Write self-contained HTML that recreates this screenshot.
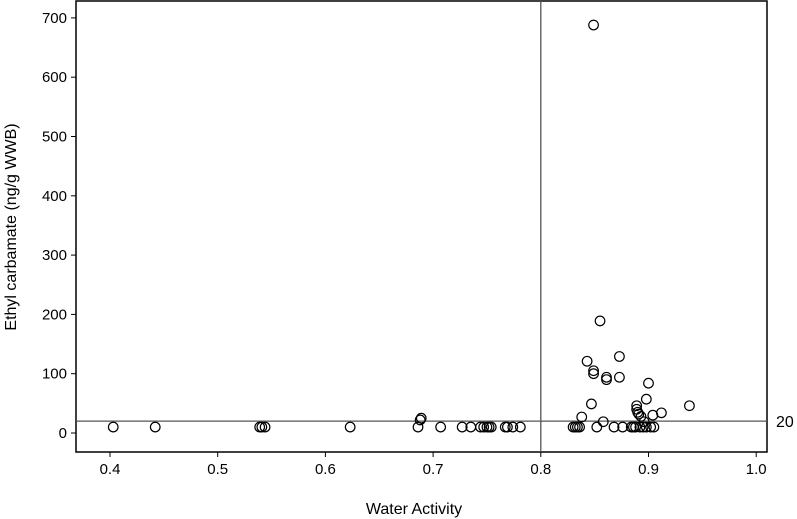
<!DOCTYPE html>
<html><head><meta charset="utf-8"><style>
body{margin:0;background:#fff;}
svg{display:block;font-family:"Liberation Sans","DejaVu Sans",sans-serif;}
</style></head><body>
<svg id="chart" width="797" height="519">
<rect x="76" y="1" width="691" height="451" fill="none" stroke="#000" stroke-width="1.5"/>
<g id="marks"></g>
<text x="414" y="514" text-anchor="middle" font-size="16">Water Activity</text>
<text transform="translate(16,227) rotate(-90)" text-anchor="middle" font-size="16">Ethyl carbamate (ng/g WWB)</text>
</svg>
<script>
const xTicks=[0.4,0.5,0.6,0.7,0.8,0.9,1.0];
const yTicks=[0,100,200,300,400,500,600,700];
const refX=[0.8];
const refY=[20];
const xVals=[0.403,0.442,0.539,0.541,0.544,0.623,0.686,0.688,0.689,0.707,0.727,0.735,0.744,0.747,0.750,0.752,0.754,0.767,0.769,0.774,0.781,
0.830,0.832,0.834,0.836,0.852,0.868,0.876,0.884,0.886,0.888,0.892,0.895,0.898,0.902,0.905,
0.849,0.855,0.843,0.873,0.849,0.849,0.861,0.861,0.873,0.900,0.847,0.898,0.938,0.838,0.858,0.889,0.889,0.890,0.891,0.893,0.896,0.904,0.912];
const yVals=[10,10,10,10,10,10,10,22,25,10,10,10,10,10,10,10,10,10,10,10,10,
10,10,10,10,10,10,10,10,10,10,10,10,10,10,10,
688,189,121,129,105,100,94,90,94,84,49,57,46,27,19,46,40,35,32,28,19,30,34];
const X=v=>110+(v-0.4)*1077;
const Y=v=>433-v*0.593;
const NS="http://www.w3.org/2000/svg";
const g=document.getElementById('marks');
function mk(t,a){const e=document.createElementNS(NS,t);for(const k in a)e.setAttribute(k,a[k]);g.appendChild(e);return e;}
xTicks.forEach(t=>{
 const l=mk('line',{x1:X(t),x2:X(t),y1:452,y2:457,stroke:'#000'});
 
 
 const s=mk('text',{x:X(t),y:474,'text-anchor':'middle','font-size':15});
 s.textContent=t.toFixed(1);
 
 
});
yTicks.forEach(t=>{
 const l=mk('line',{x1:71,x2:76,y1:Y(t),y2:Y(t),stroke:'#000'});
 
 
 const s=mk('text',{x:67,y:Y(t)+5,'text-anchor':'end','font-size':15});
 s.textContent=t;
 
 
});
refX.forEach(v=>{
 const l=mk('line',{x1:X(v),x2:X(v),y1:1,y2:452,stroke:'#555','stroke-width':1.3});
 
 
});
refY.forEach(v=>{
 const l=mk('line',{x1:76,x2:767,y1:Y(v),y2:Y(v),stroke:'#555','stroke-width':1.3});
 
 
 const s=mk('text',{x:776,y:Y(v)+6,'font-size':16});
 s.textContent=v;
 
 
});
xVals.forEach((v,i)=>{
 const c=mk('circle',{cx:X(v),cy:Y(yVals[i]),r:4.8,fill:'none',stroke:'#000','stroke-width':1.2});
 
 
});
</script>
</body></html>
